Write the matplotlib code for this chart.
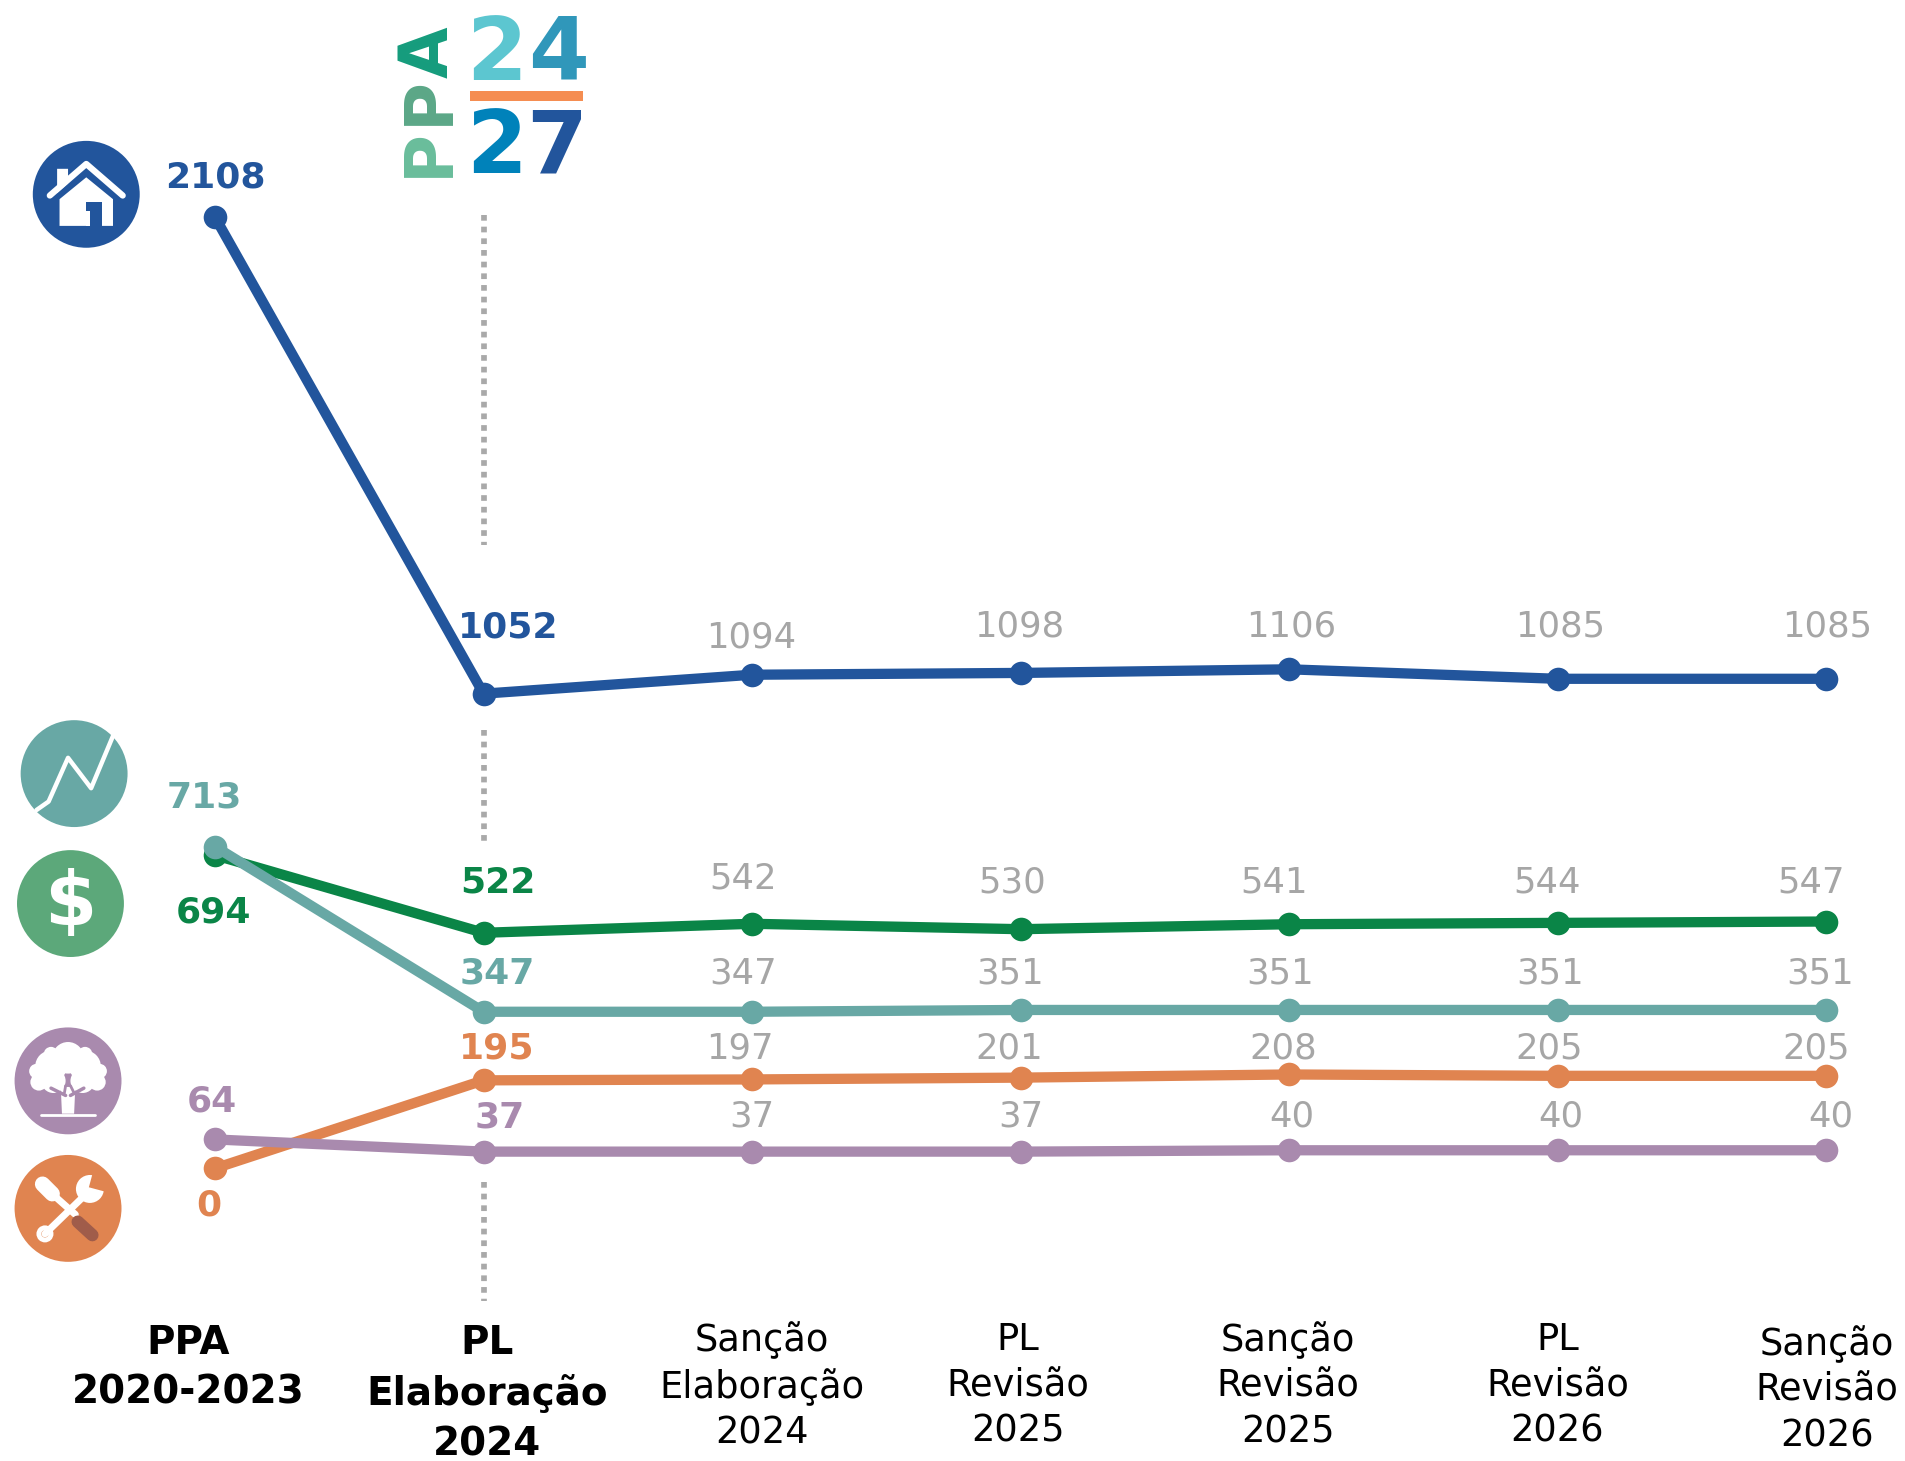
import matplotlib
matplotlib.use('Agg')
import matplotlib.pyplot as plt
from matplotlib.patches import Circle, Polygon, Rectangle

# tick labels
categories = ['PPA\n2020-2023', 'PL\nElaboração\n2024', 'Sanção\nElaboração\n2024', 'PL\nRevisão\n2025',
              'Sanção\nRevisão\n2025', 'PL\nRevisão\n2026', 'Sanção\nRevisão\n2026']

# series values
blue = [2108, 1052, 1094, 1098, 1106, 1085, 1085]
green = [694, 522, 542, 530, 541, 544, 547]
teal = [713, 347, 347, 351, 351, 351, 351]
orange = [0, 195, 197, 201, 208, 205, 205]
purple = [64, 37, 37, 37, 40, 40, 40]

c_blue = '#22559C'
c_green = '#0A8547'
c_teal = '#68A8A5'
c_orange = '#E08450'
c_purple = '#A98AAE'
c_grey = '#A6A6A6'

# label centres, measured on the 1568x1203 version of the picture
blue_lab = [(177, 146), (418, 517), (618, 525), (839, 516), (1063, 516), (1284, 516), (1504, 516)]
green_lab = [(176, 751), (410, 727), (612, 723), (833, 727), (1049, 727), (1273, 727), (1491, 727)]
teal_lab = [(168, 657), (409, 802), (612, 802), (831, 802), (1054, 802), (1276, 802), (1498, 802)]
orange_lab = [(172, 993), (409, 863), (609, 863), (831, 863), (1056, 863), (1275, 863), (1495, 863)]
purple_lab = [(174, 907), (411, 920), (619, 919), (840, 919), (1063, 919), (1285, 919), (1507, 919)]
cat_x = [155, 401, 627, 838, 1060, 1282, 1504]
cat_top = [1090, 1090, 1088, 1088, 1088, 1088, 1091]

fig = plt.figure(figsize=(19.05, 14.61), dpi=100)
ax = fig.add_axes([0, 0, 1, 1])
ax.set_xlim(-177 / 221, (1568 - 177) / 221)
ax.set_ylim((962 - 1203) / 0.3715, 962 / 0.3715)
ax.axis('off')

x = range(len(categories))
for vals, col in [(blue, c_blue), (green, c_green), (teal, c_teal), (orange, c_orange), (purple, c_purple)]:
    ax.plot(x, vals, color=col, lw=7.4, marker='o', ms=17, mew=0, solid_capstyle='round')

# overlay in picture coordinates for labels, logo and icons
ov = fig.add_axes([0, 0, 1, 1])
ov.set_xlim(0, 1568)
ov.set_ylim(1203, 0)
ov.axis('off')
ov.patch.set_alpha(0)

for y0, y1 in [(177, 449), (601, 696), (973, 1071)]:
    ov.plot([398, 398], [y0, y1], color='#A9A9A9', lw=4.1, linestyle=(0, (1, 1.05)), solid_capstyle='butt')

for vals, labs, col in [(blue, blue_lab, c_blue), (green, green_lab, c_green), (teal, teal_lab, c_teal),
                        (orange, orange_lab, c_orange), (purple, purple_lab, c_purple)]:
    for i, (v, (lx, ly)) in enumerate(zip(vals, labs)):
        if i < 2:
            ov.text(lx, ly, str(v), color=col, fontsize=26, fontweight='bold', ha='center', va='center')
        else:
            ov.text(lx, ly, str(v), color=c_grey, fontsize=25.5, ha='center', va='center')

for i, cat in enumerate(categories):
    if i < 2:
        ov.text(cat_x[i], cat_top[i], cat, color='black', fontsize=28, fontweight='bold', ha='center', va='top',
                linespacing=1.4)
    else:
        ov.text(cat_x[i], cat_top[i], cat, color='black', fontsize=26.5, ha='center', va='top', linespacing=1.3)

# logo
for txt, yy, col in [('P', 126, '#69BD9B'), ('P', 83, '#5BA787'), ('A', 43, '#159C7C')]:
    ov.text(353, yy, txt, color=col, fontsize=48, fontweight='bold', rotation=90, ha='center', va='center')
for txt, xx, yy, col in [('2', 409, 46, '#5CC6D0'), ('4', 460, 46, '#3097BA'),
                         ('2', 409, 123, '#0082BA'), ('7', 458, 123, c_blue)]:
    ov.text(xx, yy, txt, color=col, fontsize=63, fontweight='bold', ha='center', va='center')
ov.add_patch(Rectangle((387, 75), 93, 8, color='#F58D51', lw=0))


def disc(cx, cy, col):
    ov.add_patch(Circle((cx, cy), 44, color=col, lw=0))


def white_line(cx, cy, pts, lw=3.5, col='white'):
    ov.plot([cx + p[0] for p in pts], [cy + p[1] for p in pts], color=col, lw=lw, solid_capstyle='round',
            solid_joinstyle='round')


# house
disc(71, 160, c_blue)
ov.add_patch(Polygon([(71 - 22, 164), (71, 146), (71 + 22, 164), (71 + 22, 186), (71 - 22, 186)], color='white', lw=0))
ov.add_patch(Rectangle((71, 166), 13, 20, color=c_blue, lw=0))
ov.add_patch(Rectangle((71, 174), 3, 12, color='white', lw=0))
white_line(71, 160, [(-30, 1), (0, -25), (30, 1)], lw=4.5)
ov.add_patch(Polygon([(47, 139), (56, 139), (56, 151), (47, 159)], color='white', lw=0))

# chart line
disc(61, 637, c_teal)
white_line(61, 637, [(-31, 30), (-21, 23), (-5, -13), (14, 12), (32, -31)], lw=3.2)

# dollar
disc(58, 744, '#5CA87A')
ov.text(58, 745, '$', color='white', fontsize=54, fontweight='bold', ha='center', va='center')

# tree
disc(56, 890, c_purple)
for dx, dy, r in [(0, -19, 13), (-14, -12, 13), (14, -12, 13), (-24, 1, 7), (24, 1, 7), (-12, 0, 10), (12, 0, 10),
                  (-14, -22, 6), (14, -22, 6), (-26, -8, 6), (26, -8, 6)]:
    ov.add_patch(Circle((56 + dx, 890 + dy), r, color='white', lw=0))
ov.add_patch(Polygon([(56 - 6, 890 + 5), (56 + 6, 890 + 5), (56 + 5, 890 + 27), (56 - 5, 890 + 27)], color='white', lw=0))
white_line(56, 890, [(-2, 12), (-14, 6)], lw=2.5, col=c_purple)
white_line(56, 890, [(2, 12), (13, 6)], lw=2.5, col=c_purple)
white_line(56, 890, [(-2, 4), (-3, 10)], lw=2, col=c_purple)
white_line(56, 890, [(2, 4), (5, 10)], lw=2, col=c_purple)
white_line(56, 890, [(-22, 28), (22, 28)], lw=2)

# tools
disc(56, 995, c_orange)
white_line(56, 995, [(-19, 21), (14, -11)], lw=5)
white_line(56, 995, [(-12, -11), (6, 5)], lw=5)
white_line(56, 995, [(-21, -20), (-13, -12)], lw=11)
ov.add_patch(Circle((56 + 18, 995 - 16), 11.5, color='white', lw=0))
ov.add_patch(Rectangle((56 + 20, 995 - 28), 14, 11, angle=15, color=c_orange, lw=0))
ov.add_patch(Circle((56 - 19, 995 + 21), 7, color='white', lw=0))
ov.add_patch(Circle((56 - 19, 995 + 21), 3, color=c_orange, lw=0))
white_line(56, 995, [(8, 11), (20, 22)], lw=9, col='#A05C4A')

fig.savefig('out.png', dpi=100)
